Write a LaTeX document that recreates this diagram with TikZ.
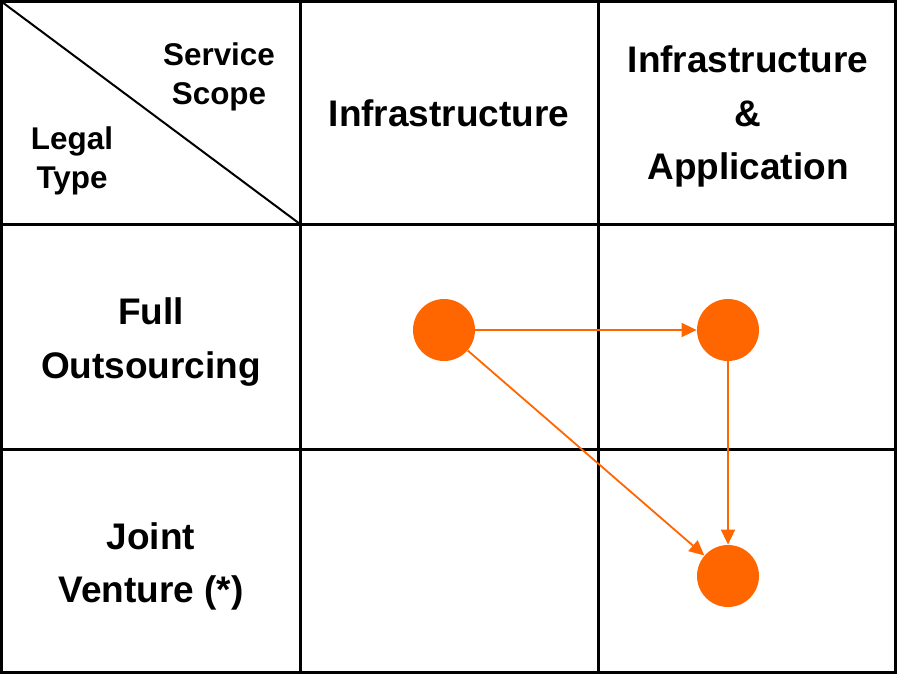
\documentclass[tikz,border=0pt]{standalone}
\usepackage{fontspec}
\setmainfont{Liberation Sans}
\usetikzlibrary{arrows.meta}
\definecolor{dotorange}{HTML}{FF6600}
\tikzset{
  head/.style={font=\fontsize{18.5}{26.7}\selectfont\bfseries,align=center},
  corner/.style={font=\fontsize{15.7}{19.5}\selectfont\bfseries,align=center},
  dot/.style={circle,fill=dotorange,minimum size=31pt,inner sep=0pt},
  flow/.style={-{Triangle[length=7.5pt,width=7pt]},draw=dotorange,line width=0.9pt}
}
\begin{document}
\begin{tikzpicture}[x=0.5pt,y=-0.5pt]
    \useasboundingbox (0,0) rectangle (897,674);
    % grid
    \draw[line width=1.5pt] (1.5,1.5) rectangle (895.5,672.5);
    \draw[line width=1.5pt] (300,0) -- (300,674);
    \draw[line width=1.5pt] (598,0) -- (598,674);
    \draw[line width=1.5pt] (0,224) -- (897,224);
    \draw[line width=1.5pt] (0,449) -- (897,449);
    \draw[line width=1pt] (2,2) -- (300,224);
    % headers
    \node[corner] (scope) at (219,76.5) {Service\\Scope};
    \node[corner] (legal) at (72,160.5) {Legal\\Type};
    \node[head] (infra) at (449,113) {Infrastructure};
    \node[head] (infraapp) at (748,116.5) {Infrastructure\\\&\\Application};
    \node[head] (full) at (151,342) {Full\\Outsourcing};
    \node[head] (joint) at (151,566.5) {Joint\\Venture (*)};
    % dots
    \node[dot] (fullinfra) at (444,330) {};
    \node[dot] (fullapp) at (728,330) {};
    \node[dot] (jointapp) at (728,576) {};
    \draw[flow] (fullinfra) -- (fullapp);
    \draw[flow] (fullapp) -- (jointapp);
    \draw[flow] (fullinfra) -- (jointapp);
\end{tikzpicture}
\end{document}
